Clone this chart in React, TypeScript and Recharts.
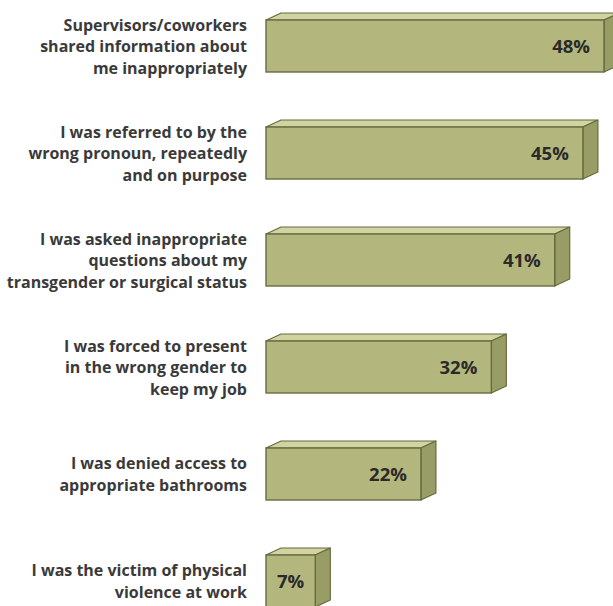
import React from 'react';
import { BarChart, Bar, XAxis, YAxis, LabelList } from 'recharts';

const categoryLines: string[][] = [
  ['Supervisors/coworkers', 'shared information about', 'me inappropriately'],
  ['I was referred to by the', 'wrong pronoun, repeatedly', 'and on purpose'],
  ['I was asked inappropriate', 'questions about my', 'transgender or surgical status'],
  ['I was forced to present', 'in the wrong gender to', 'keep my job'],
  ['I was denied access to', 'appropriate bathrooms'],
  ['I was the victim of physical', 'violence at work'],
];
const categoryKeys: string[] = ['c1', 'c2', 'c3', 'c4', 'c5', 'c6'];
const percentValues: number[] = [48, 45, 41, 32, 22, 7];

const data = categoryKeys.map((k, i) => ({ name: k, value: percentValues[i], lines: categoryLines[i] }));

const DX = 15;
const DY = 7;
const FRONT = '#b3b77d';
const TOP = '#d1d4a1';
const SIDE = '#989c65';
const STROKE = '#676b40';

const Bar3D = (props: any) => {
  const { x, y, width, height } = props;
  if (width == null || width <= 0) return null;
  const topPts = `${x},${y} ${x + DX},${y - DY} ${x + width + DX},${y - DY} ${x + width},${y}`;
  const sidePts = `${x + width},${y} ${x + width + DX},${y - DY} ${x + width + DX},${y + height - DY} ${x + width},${y + height}`;
  return (
    <g>
      <polygon points={topPts} fill={TOP} stroke={STROKE} strokeWidth={1.2} strokeLinejoin="round" />
      <polygon points={sidePts} fill={SIDE} stroke={STROKE} strokeWidth={1.2} strokeLinejoin="round" />
      <rect x={x} y={y} width={width} height={height} fill={FRONT} stroke={STROKE} strokeWidth={1.4} />
    </g>
  );
};

const FONT = '"Open Sans", "Noto Sans", sans-serif';

const CategoryTick = (props: any) => {
  const { x, y, payload } = props;
  const idx = categoryKeys.indexOf(payload.value);
  const lines = categoryLines[idx] || [];
  const lh = 21.5;
  const start = y + 1 - ((lines.length - 1) * lh) / 2;
  return (
    <text x={x} y={start} textAnchor="end" fill="#3a3a3a" fontFamily={FONT} fontWeight={700} fontSize={16}>
      {lines.map((l, i) => (
        <tspan key={i} x={x} y={start + i * lh + 5.5}>{l}</tspan>
      ))}
    </text>
  );
};

const ValueLabel = (props: any) => {
  const { x, y, width, height, value } = props;
  const short = width < 60;
  const tx = short ? x + width / 2 : x + width - 14;
  return (
    <text x={tx} y={y + height / 2 + 6.5} textAnchor={short ? 'middle' : 'end'} fill="#2a2a2a" fontFamily={FONT} fontWeight={700} fontSize={18.5}>
      {`${value}%`}
    </text>
  );
};

export default function App() {
  return (
    <div style={{ position: 'absolute', left: 0, top: 0, width: 613, height: 606, overflow: 'hidden', background: '#ffffff' }}>
      <div style={{ position: 'absolute', left: 0, top: -8 }}>
        <BarChart
          width={613}
          height={650}
          data={data}
          layout="vertical"
          margin={{ top: 0, right: 9, bottom: 8, left: 0 }}
        >
          <XAxis type="number" domain={[0, 48]} hide />
          <YAxis
            type="category"
            dataKey="name"
            width={266}
            axisLine={false}
            tickLine={false}
            tickMargin={13}
            tick={<CategoryTick />}
            interval={0}
          />
          <Bar dataKey="value" barSize={52} shape={<Bar3D />} isAnimationActive={false}>
            <LabelList dataKey="value" content={<ValueLabel />} />
          </Bar>
        </BarChart>
      </div>
    </div>
  );
}
